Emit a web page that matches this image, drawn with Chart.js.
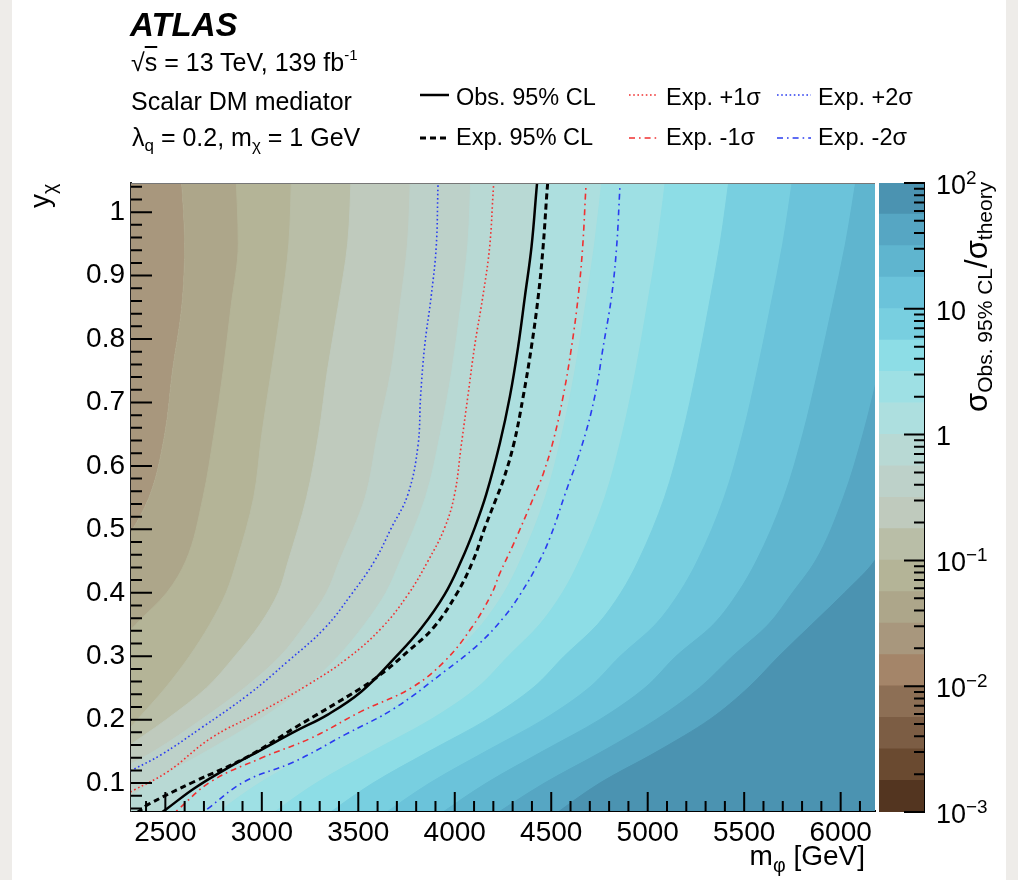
<!DOCTYPE html>
<html>
<head>
<meta charset="utf-8">
<script src="https://cdn.jsdelivr.net/npm/chart.js@4.4.0/dist/chart.umd.min.js"></script>
<style>
  body { margin: 0; width: 1018px; height: 880px; overflow: hidden; background: #eeece9;
         font-family: "Liberation Sans", Arial, sans-serif; }
  #paper { position: absolute; left: 12px; top: 0; width: 994px; height: 880px; background: #fff; }
  canvas { position: absolute; top: 0; }
  .t { position: absolute; white-space: nowrap; color: #000; line-height: 1; }
  sub, sup { line-height: 0; }
  .txt { font-size: 25px; }
  .txt sub { font-size: 0.68em; vertical-align: -0.3em; }
  .txt sup { font-size: 0.6em; vertical-align: 0.75em; }
  .leg { font-size: 23.5px; }
  .cb { font-size: 27px; }
  .cb sup { font-size: 0.7em; vertical-align: 0.55em; }
  .ax { font-size: 28px; }
  .ax sub { font-size: 0.7em; vertical-align: -0.35em; }
</style>
</head>
<body>
<div id="paper"></div>
<canvas id="main" width="1018" height="880" style="left:0"></canvas>
<canvas id="bar" width="158" height="880" style="left:860px"></canvas>

<div class="t" style="left:130px;top:8px;font-size:33px;font-weight:bold;font-style:italic;">ATLAS</div>
<div class="t txt" style="left:131px;top:50px;">√<span style="text-decoration:overline">s</span> = 13 TeV, 139 fb<sup>-1</sup></div>
<div class="t txt" style="left:131px;top:89px;">Scalar DM mediator</div>
<div class="t txt" style="left:132px;top:125px;">λ<sub>q</sub> = 0.2, m<sub>χ</sub> = 1 GeV</div>

<svg style="position:absolute;left:0;top:0;pointer-events:none" width="1018" height="180">
  <line x1="420" y1="95" x2="449" y2="95" stroke="#000" stroke-width="2.5"/>
  <line x1="420" y1="138" x2="450" y2="138" stroke="#000" stroke-width="3" stroke-dasharray="6 4"/>
  <line x1="629" y1="95" x2="657" y2="95" stroke="#f03030" stroke-width="1.6" stroke-dasharray="1.6 2.6"/>
  <line x1="629" y1="138" x2="658" y2="138" stroke="#f03030" stroke-width="1.6" stroke-dasharray="6 4 1.6 4"/>
  <line x1="777" y1="95" x2="811" y2="95" stroke="#2a3cf0" stroke-width="1.6" stroke-dasharray="1.6 2.6"/>
  <line x1="777" y1="138" x2="811" y2="138" stroke="#2a3cf0" stroke-width="1.6" stroke-dasharray="6 4 1.6 4"/>
</svg>
<div class="t leg" style="left:456px;top:86px;">Obs. 95% CL</div>
<div class="t leg" style="left:456px;top:126px;">Exp. 95% CL</div>
<div class="t leg" style="left:666px;top:86px;">Exp. +1σ</div>
<div class="t leg" style="left:666px;top:126px;">Exp. -1σ</div>
<div class="t leg" style="left:818px;top:86px;">Exp. +2σ</div>
<div class="t leg" style="left:818px;top:126px;">Exp. -2σ</div>

<div class="t ax" style="left:26px;top:208px;transform-origin:0 0;transform:rotate(-90deg);">y<sub>χ</sub></div>
<div class="t ax" style="right:153px;top:842px;">m<sub>φ</sub> [GeV]</div>
<div class="t" style="left:961px;top:412px;transform-origin:0 0;transform:rotate(-90deg);font-size:31px;">σ<sub style="font-size:21px;vertical-align:-5px">Obs. 95% CL</sub>/σ<sub style="font-size:21px;vertical-align:-5px">theory</sub></div>

<script>
// y positions shared by all band edges
const yGrid = [0.04, 0.10, 0.15, 0.20, 0.25, 0.30, 0.35, 0.40, 0.45, 0.55, 0.65, 0.75, 0.85, 0.95, 1.07];

// m_phi position of each colour-band edge (log10 ratio = -1.5 ... 1.75, step 0.25)
const edgeX = [
  [1500, 1600, 1700, 1790, 1880, 1970, 2060, 2150, 2235, 2415, 2497, 2537, 2585, 2600, 2580], // -1.50
  [1650, 1750, 1850, 1960, 2080, 2200, 2347, 2507, 2606, 2695, 2752, 2800, 2840, 2878, 2865], // -1.25
  [1850, 2000, 2210, 2355, 2500, 2625, 2730, 2815, 2870, 2958, 3000, 3050, 3100, 3140, 3155], // -1.00
  [1950, 2080, 2273, 2505, 2713, 2860, 2990, 3085, 3137, 3232, 3295, 3340, 3395, 3445, 3465], // -0.75
  [2000, 2150, 2440, 2686, 2910, 3095, 3225, 3335, 3402, 3535, 3600, 3670, 3715, 3755, 3772], // -0.50
  [2180, 2422, 2712, 2988, 3222, 3396, 3532, 3643, 3717, 3848, 3925, 3985, 4030, 4068, 4085], // -0.25
  [2420, 2694, 2985, 3291, 3535, 3697, 3840, 3952, 4033, 4157, 4244, 4308, 4356, 4400, 4440], //  0.00
  [2710, 2988, 3279, 3583, 3825, 3987, 4140, 4255, 4339, 4469, 4556, 4623, 4676, 4725, 4770], //  0.25
  [3000, 3282, 3573, 3875, 4115, 4277, 4440, 4558, 4645, 4778, 4868, 4938, 4996, 5050, 5100], //  0.50
  [3290, 3576, 3867, 4167, 4405, 4567, 4740, 4861, 4951, 5087, 5180, 5253, 5316, 5375, 5430], //  0.75
  [3580, 3870, 4161, 4459, 4695, 4857, 5040, 5164, 5257, 5396, 5492, 5568, 5636, 5700, 5760], //  1.00
  [3870, 4164, 4455, 4751, 4985, 5147, 5340, 5467, 5563, 5705, 5804, 5883, 5956, 6025, 6090], //  1.25
  [4155, 4465, 4765, 5043, 5268, 5440, 5625, 5750, 5869, 6014, 6116, 6198, 6276, 6350, 6420], //  1.50
  [4470, 4752, 5050, 5320, 5520, 5680, 5850, 6020, 6175, 6323, 6428, 6513, 6596, 6675, 6750]  //  1.75
];

// colour scale: 20 levels from 1e-3 to 1e2
const zLevels = [0.001, 0.001778, 0.003162, 0.005623, 0.01, 0.01778, 0.03162, 0.05623, 0.1, 0.1778,
                 0.3162, 0.5623, 1, 1.778, 3.162, 5.623, 10, 17.78, 31.62, 56.23, 100];
const bandColors = ['#533520', '#6a4a30', '#7c5d44', '#8d6f55', '#a48569', '#a8977d', '#ada68a', '#b4b497',
                    '#b9bea7', '#bfcabd', '#bdd1c9', '#b8d9d4', '#addfdf', '#9ee0e4', '#8ddde6', '#78cfe0',
                    '#6bc3da', '#5fb5cf', '#56a6c3', '#4b93b1'];
const firstBand = 5; // band left of the first edge

// limit contours
const obsY = [0.045, 0.058, 0.092, 0.124, 0.1525, 0.181, 0.208, 0.244, 0.297, 0.344, 0.397, 0.450, 0.502, 0.555, 0.636, 0.710, 0.789, 0.868, 0.946, 1.044, 1.06];
const obsX = [2440, 2501, 2651, 2824, 2997, 3170, 3342, 3515, 3688, 3826, 3947, 4033, 4103, 4163, 4234, 4286, 4329, 4364, 4398, 4426, 4432];
const expY = [0.045, 0.058, 0.066, 0.1025, 0.139, 0.187, 0.250, 0.276, 0.3076, 0.344, 0.397, 0.450, 0.502, 0.5495, 0.578, 0.636, 0.710, 0.789, 0.868, 0.946, 1.044, 1.06];
const expX = [2310, 2375, 2409, 2651, 2911, 3170, 3515, 3636, 3757, 3887, 4007, 4094, 4155, 4216, 4252, 4307, 4355, 4398, 4433, 4458, 4481, 4488];
const p1Y = [0.083, 0.0894, 0.118, 0.171, 0.213, 0.255, 0.297, 0.344, 0.397, 0.450, 0.502, 0.555, 0.631, 0.710, 0.789, 0.868, 0.946, 1.041, 1.06];
const p1X = [2300, 2340, 2513, 2737, 2997, 3239, 3446, 3619, 3757, 3861, 3947, 3999, 4033, 4068, 4103, 4146, 4181, 4201, 4208];
const p2Y = [0.116, 0.121, 0.1446, 0.187, 0.239, 0.292, 0.344, 0.397, 0.450, 0.502, 0.555, 0.631, 0.710, 0.789, 0.868, 0.946, 1.041, 1.06];
const p2X = [2300, 2331, 2478, 2686, 2928, 3135, 3325, 3463, 3584, 3671, 3757, 3809, 3823, 3844, 3878, 3904, 3913, 3916];
const m1Y = [0.045, 0.058, 0.1025, 0.1394, 0.171, 0.213, 0.250, 0.292, 0.344, 0.397, 0.431, 0.476, 0.555, 0.589, 0.6415, 0.710, 0.789, 0.868, 0.946, 1.041, 1.06];
const m1X = [2520, 2565, 2737, 2997, 3256, 3515, 3774, 3947, 4085, 4189, 4234, 4303, 4415, 4460, 4512, 4562, 4606, 4640, 4663, 4680, 4685];
const m2Y = [0.045, 0.058, 0.1025, 0.134, 0.176, 0.218, 0.276, 0.318, 0.3628, 0.397, 0.4416, 0.4864, 0.555, 0.631, 0.710, 0.789, 0.868, 0.946, 1.0385, 1.06];
const m2X = [2650, 2712, 2911, 3170, 3429, 3688, 3947, 4120, 4258, 4338, 4424, 4493, 4571, 4658, 4726, 4770, 4813, 4839, 4856, 4862];

// axes
const xRange = [2322, 6178];
const yRange = [0.056, 1.046];
const xMajor = [2500, 3000, 3500, 4000, 4500, 5000, 5500, 6000];
const yMajor = [0.1, 0.2, 0.3, 0.4, 0.5, 0.6, 0.7, 0.8, 0.9, 1];
const cbMajor = [0.001, 0.01, 0.1, 1, 10, 100];
const cbLabels = [['10', '−3'], ['10', '−2'], ['10', '−1'], ['1', ''], ['10', ''], ['10', '2']];

const red = '#f03030', blue = '#2a3cf0';

Chart.defaults.font.family = '"Liberation Sans", Arial, sans-serif';
Chart.defaults.color = '#000';

const pts = (xs, ys) => xs.map((x, i) => ({ x: x, y: ys[i] }));

// band fills: every edge fills towards the right, drawn left to right
const datasets = [];
datasets.push({
  data: pts(edgeX[0], yGrid), fill: { value: 1000 }, backgroundColor: bandColors[firstBand],
  borderWidth: 0, order: 40, cubicInterpolationMode: 'monotone'
});
edgeX.forEach((xs, e) => {
  const c = bandColors[firstBand + 1 + e];
  datasets.push({
    data: pts(xs, yGrid), fill: { value: 8000 }, backgroundColor: c,
    borderColor: c, borderWidth: 1, order: 39 - e, cubicInterpolationMode: 'monotone'
  });
});

const contour = (xs, ys, color, width, dash) => ({
  data: pts(xs, ys), fill: false, borderColor: color, borderWidth: width,
  borderDash: dash, order: 0, tension: 0.4
});
datasets.push(contour(p2X, p2Y, blue, 1.6, [1.6, 2.6]));
datasets.push(contour(m2X, m2Y, blue, 1.6, [6, 4, 1.6, 4]));
datasets.push(contour(p1X, p1Y, red, 1.6, [1.6, 2.6]));
datasets.push(contour(m1X, m1Y, red, 1.6, [6, 4, 1.6, 4]));
datasets.push(contour(expX, expY, '#000', 3, [6, 4]));
datasets.push(contour(obsX, obsY, '#000', 2.5, []));

const xTicks = [];
for (let v = 2400; v <= 6100; v += 100) xTicks.push(v);
const yTicks = [];
for (let k = 3; k <= 52; k++) yTicks.push(Math.round(k * 2) / 100);

const innerTicks = {
  id: 'innerTicks',
  afterDraw(chart) {
    const { ctx, chartArea: a } = chart;
    const xs = chart.scales.x, ys = chart.scales.y;
    ctx.save();
    ctx.strokeStyle = '#000';
    ctx.lineWidth = 2;
    ctx.beginPath();
    xs.ticks.forEach(t => {
      const p = xs.getPixelForValue(t.value);
      const len = xMajor.includes(t.value) ? 19 : 10;
      ctx.moveTo(p, a.bottom); ctx.lineTo(p, a.bottom - len);
    });
    ys.ticks.forEach(t => {
      const p = ys.getPixelForValue(t.value);
      const len = yMajor.includes(t.value) ? 21 : 11;
      ctx.moveTo(a.left, p); ctx.lineTo(a.left + len, p);
    });
    ctx.stroke();
    ctx.strokeStyle = '#777';
    ctx.lineWidth = 1;
    ctx.beginPath();
    ctx.moveTo(a.left, a.top + 0.5); ctx.lineTo(a.right, a.top + 0.5);
    ctx.stroke();
    ctx.restore();
  }
};

new Chart(document.getElementById('main'), {
  type: 'line',
  data: { datasets: datasets },
  options: {
    indexAxis: 'y',
    responsive: false,
    animation: false,
    events: [],
    layout: { padding: { left: 0, top: 183, right: 143, bottom: 0 } },
    elements: { point: { radius: 0 } },
    plugins: { legend: { display: false }, tooltip: { enabled: false }, filler: { propagate: false } },
    scales: {
      x: {
        type: 'linear', position: 'bottom', min: xRange[0], max: xRange[1],
        afterFit: s => { s.height = 69; },
        afterBuildTicks: s => { s.ticks = xTicks.map(v => ({ value: v })); },
        ticks: {
          autoSkip: false, maxRotation: 0, padding: 5, font: { size: 28 },
          callback: v => xMajor.includes(v) ? String(v) : ''
        },
        grid: { drawOnChartArea: false, drawTicks: false },
        border: { color: '#000', width: 2 }
      },
      y: {
        type: 'linear', position: 'left', min: yRange[0], max: yRange[1],
        afterFit: s => { s.width = 131; },
        afterBuildTicks: s => { s.ticks = yTicks.map(v => ({ value: v })); },
        ticks: {
          autoSkip: false, padding: 6, font: { size: 28 },
          callback: v => yMajor.includes(v) ? String(v) : ''
        },
        grid: { drawOnChartArea: false, drawTicks: false },
        border: { color: '#222', width: 2 }
      }
    }
  },
  plugins: [innerTicks]
});

// colour bar
const cbTicks = {
  id: 'cbTicks',
  afterDraw(chart) {
    const { ctx, chartArea: a } = chart;
    const s = chart.scales.y;
    ctx.save();
    ctx.strokeStyle = '#000';
    ctx.lineWidth = 2;
    ctx.beginPath();
    cbMajor.forEach((d, i) => {
      for (let m = 1; m <= 9; m++) {
        if (i === cbMajor.length - 1 && m > 1) break;
        const p = s.getPixelForValue(d * m);
        const len = m === 1 ? 20 : 10;
        ctx.moveTo(a.right, p); ctx.lineTo(a.right - len, p);
      }
    });
    ctx.stroke();
    ctx.restore();
  }
};

const barChart = new Chart(document.getElementById('bar'), {
  type: 'bar',
  data: {
    labels: [''],
    datasets: bandColors.map((c, i) => ({
      data: [[zLevels[i], zLevels[i + 1]]], backgroundColor: c, borderColor: c, borderWidth: 0,
      grouped: false, barPercentage: 1, categoryPercentage: 1, inflateAmount: 0.6
    }))
  },
  options: {
    responsive: false,
    animation: false,
    events: [],
    layout: { padding: { left: 19, top: 183, right: 0, bottom: 68 } },
    plugins: { legend: { display: false }, tooltip: { enabled: false } },
    scales: {
      x: { display: false },
      y: {
        type: 'logarithmic', position: 'right', min: zLevels[0], max: zLevels[zLevels.length - 1],
        afterFit: s => { s.width = 94; },
        ticks: { display: false },
        grid: { drawOnChartArea: false, drawTicks: false },
        border: { color: '#000', width: 2 }
      }
    }
  },
  plugins: [cbTicks]
});

const cbScale = barChart.scales.y;
cbMajor.forEach((v, i) => {
  const [base, exp] = cbLabels[i];
  const d = document.createElement('div');
  d.className = 't cb';
  d.innerHTML = exp ? base + '<sup>' + exp + '</sup>' : base;
  d.style.left = '936px';
  d.style.top = (cbScale.getPixelForValue(v) + 2 - 13.2) + 'px';
  document.body.appendChild(d);
});
</script>
</body>
</html>
